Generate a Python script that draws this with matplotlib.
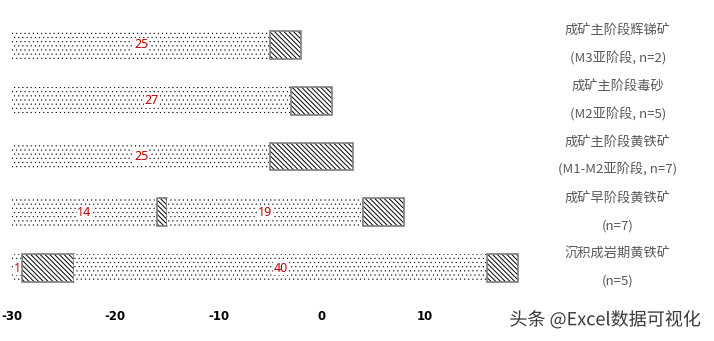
import matplotlib
matplotlib.use("Agg")
import matplotlib.pyplot as plt
import matplotlib.patheffects as pe

plt.rcParams['font.family'] = ['Noto Sans CJK SC', 'DejaVu Sans']
plt.rcParams['hatch.linewidth'] = 0.8

# Rows top to bottom; each row is a sequence of stacked segments starting at x = -30
start = -30
row_line1 = ['成矿主阶段辉锑矿', '成矿主阶段毒砂', '成矿主阶段黄铁矿', '成矿早阶段黄铁矿', '沉积成岩期黄铁矿']
row_line2 = ['(M3亚阶段, n=2)', '(M2亚阶段, n=5)', '(M1-M2亚阶段, n=7)', '(n=7)', '(n=5)']
row1_segments = [25, 3]
row2_segments = [27, 4]
row3_segments = [25, 8]
row4_segments = [14, 1, 19, 4]
row5_segments = [1, 5, 40, 3]
segments = [row1_segments, row2_segments, row3_segments, row4_segments, row5_segments]
# segment kinds alternate: dotted, hatched, dotted, hatched
xticks = [-30, -20, -10, 0, 10]

W, H = 714, 341
fig = plt.figure(figsize=(W / 100, H / 100), dpi=100)
ax_left, ax_right = 12, 714
ax_top, ax_bottom = 11.5, 301.5
ax = fig.add_axes([ax_left / W, 1 - ax_bottom / H, (ax_right - ax_left) / W, (ax_bottom - ax_top) / H])
ax.set_xlim(-30, 38)
ax.set_ylim(4.6, -0.6)


def set_hlw(bars, lw):
    for b in bars:
        if hasattr(b, 'set_hatch_linewidth'):
            b.set_hatch_linewidth(lw)


bar_h = 0.5
for i, segs in enumerate(segments):
    left = start
    for j, w in enumerate(segs):
        if j % 2 == 0:
            with plt.rc_context({'hatch.linewidth': 0.3}):
                bars = ax.barh(i, w, left=left, height=bar_h, color='white', edgecolor='black',
                               linewidth=0, hatch='....')
            set_hlw(bars, 0.3)
            ax.text(left + w / 2, i, str(w), color='#C00000', ha='center', va='center',
                    fontsize=9, family=['Noto Sans', 'DejaVu Sans'],
                    bbox=dict(boxstyle='square,pad=0.05', fc='white', ec='none'))
        else:
            with plt.rc_context({'hatch.linewidth': 0.7}):
                bars = ax.barh(i, w, left=left, height=bar_h, color='white', edgecolor='black',
                               linewidth=0, hatch='\\\\\\\\\\\\\\')
            set_hlw(bars, 0.7)
            ax.barh(i, w, left=left, height=bar_h, color='none', edgecolor='#7f7f7f',
                    linewidth=1.2)
        left += w

for i in range(len(row_line1)):
    ax.text(28.7, i - 0.24, row_line1[i], color='#595959', ha='center', va='center', fontsize=9.5)
    ax.text(28.7, i + 0.24, row_line2[i], color='#595959', ha='center', va='center', fontsize=9.5)

ax.set_xticks(xticks)
ax.set_xticklabels([str(t) for t in xticks], fontweight='bold', fontsize=8.5,
                   family=['DejaVu Sans'])
ax.tick_params(axis='x', length=0, pad=6)
ax.set_yticks([])
for s in ax.spines.values():
    s.set_visible(False)

fig.text(605 / W, 1 - 320 / H, '头条 @Excel数据可视化', color='#3a3a3a', ha='center', va='center',
         fontsize=13, path_effects=[pe.withStroke(linewidth=2, foreground='white')])

fig.savefig('out.png', dpi=100)
